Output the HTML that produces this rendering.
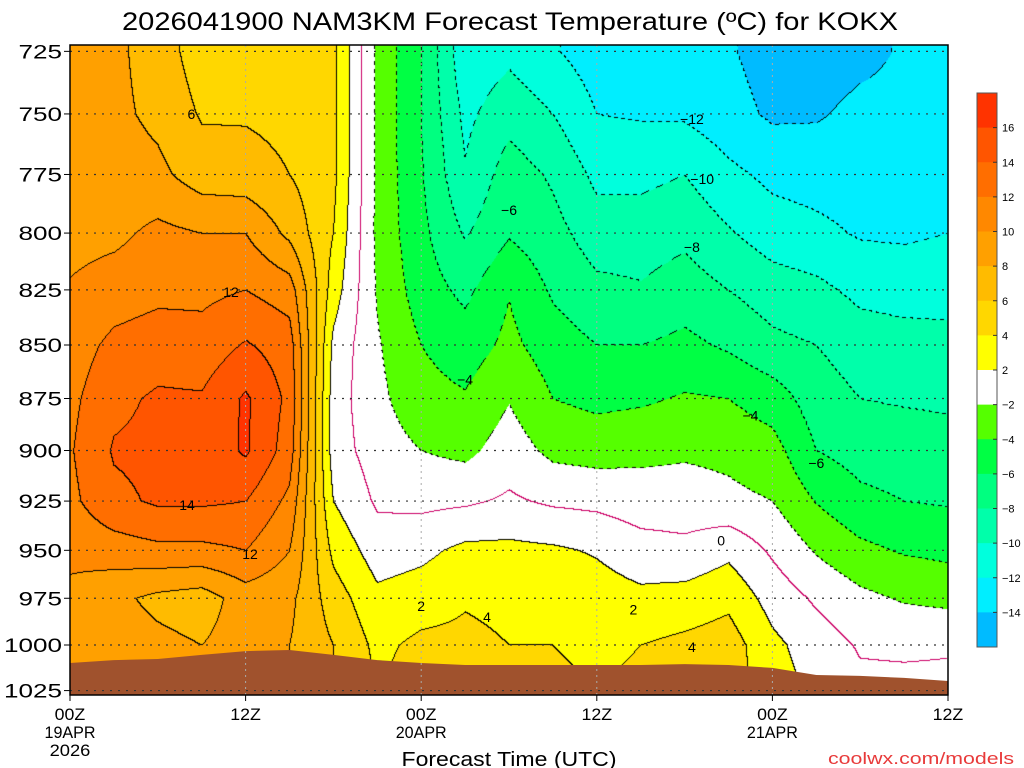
<!DOCTYPE html>
<html><head><meta charset="utf-8">
<style>
html,body{margin:0;padding:0;background:#fff;width:1024px;height:768px;overflow:hidden;}
#wrap{position:relative;width:1024px;height:768px;}
canvas{position:absolute;left:70px;top:45px;}
svg{position:absolute;left:0;top:0;}
text{font-family:"Liberation Sans",sans-serif;fill:#000;}
</style></head>
<body>
<div id="wrap">
<canvas id="cv" width="878" height="650"></canvas>
<svg id="ov" width="1024" height="768"></svg>
</div>
<script>
// ---- data ----
const times = [0,3,6,9,12,15,18,21,24,27,30,33,36,39,42,45,48,51,54,57,60];
const levels = [725,750,775,800,825,850,875,900,925,950,975,1000,1025];
const temps = [
 [9,9,9,9.3,10.2,11,11.5,11.8,11.5,10.5,9.5,8.5,8.5],
 [8.5,8.5,9,9.5,11,12.5,13.5,14.2,13.5,11,8.5,9,9],
 [7,7.5,8.5,10.5,11.5,13,14.3,14.5,14.3,11.5,7.5,8.5,8.5],
 [5,5.8,7,10,11.5,12.8,14.2,14.5,14.3,11.5,7,8,8],
 [5.5,5.8,6.8,10,12,14.2,16.3,16.3,14,12,9,9,9],
 [5,5.5,6,7.5,11,13,13.5,13,11.5,10,8.5,8,8],
 [4.5,4.5,4.5,4,3,1.5,1,1,2,3.5,5,6,6],
 [-2.5,-2.5,-2.5,-2.5,-2.2,-1.8,-1.5,-1,-0.3,1,2.5,3.5,4],
 [-6,-6,-5.8,-5.5,-5,-4,-3.3,-2,-0.5,1.5,3,4.5,5],
 [-11.5,-10.5,-9.8,-8.2,-6.5,-5,-3.8,-2.5,-0.3,2.5,3.8,4.5,5],
 [-10.5,-8.7,-7,-6.2,-4.1,-3.5,-2.1,-1,0.3,2.5,3.5,4,4.5],
 [-11.8,-10,-8.3,-7.3,-6.3,-5,-4,-2.5,-0.3,2.3,3.5,4,4.5],
 [-13,-12,-10.5,-9,-7.5,-6,-4.5,-2.8,-0.5,1.8,3,3.5,4],
 [-13.5,-12.2,-10.5,-9,-7.8,-6,-4.3,-2.5,-1,0.8,2.5,4,4.5],
 [-13.5,-12.3,-10,-8.5,-7,-5.5,-3.8,-2.3,-1,0.5,2.8,4.5,5],
 [-13.8,-13.3,-11.5,-9.8,-8,-6.3,-4,-2.5,-1.5,1.5,3.5,5,5],
 [-14.8,-14.3,-12.5,-11,-9,-7.5,-5,-3.2,-2,-0.3,1.2,2.5,3],
 [-15,-14.2,-12.8,-11.5,-9.5,-8,-7,-6,-4.1,-2.2,-0.3,1,1.5],
 [-14.5,-13.5,-13,-12.2,-10.5,-9,-8,-6.8,-5.5,-3.5,-1.5,-0.2,0.5],
 [-13.8,-13.5,-13,-12.3,-10.8,-9.2,-8.2,-7,-6,-4.2,-2.2,-0.3,0.5],
 [-13.5,-13,-12.5,-12,-10.6,-9.5,-8.3,-7.3,-6.2,-4.5,-2.5,-0.2,0.5]
];
const surfacePressure = [1009.8,1008.2,1007.6,1005.4,1003.3,1002.7,1005.4,1008.2,1009.8,1010.9,1010.9,1010.9,1010.9,1010.9,1010.4,1010.9,1012.5,1016.4,1016.9,1018,1019.7];
const bandBounds = [16,14,12,10,8,6,4,2,-2,-4,-6,-8,-10,-12,-14];
const bandColors = ['#ff3300','#ff5500','#ff6e00','#ff8800','#ffa000','#ffbb00','#ffd700','#ffff00','#ffffff','#55ff00','#00ff44','#00ff80','#00ffaa','#00ffdd','#00eeff','#00bbff'];
const colorbarLabels = ['16','14','12','10','8','6','4','2','\u22122','\u22124','\u22126','\u22128','\u221210','\u221212','\u221214'];
const pressureTicks = [725,750,775,800,825,850,875,900,925,950,975,1000,1025];
const timeTicks = [0,12,24,36,48,60];
const timeTickLabels = [['00Z','19APR','2026'],['12Z'],['00Z','20APR'],['12Z'],['00Z','21APR'],['12Z']];
const contourLabels = [['6',8.3,750],['12',11,826],['14',8,927],['12',12.3,952],['\u22126',30,790],['\u22124',27,866],['2',24,979],['4',28.5,985],['2',38.5,981],['4',42.5,1001],['0',44.5,945],['\u221212',42.5,752],['\u221210',43.2,777],['\u22128',42.5,806],['\u22124',46.5,883],['\u22126',51,906]];

// ---- axes ----
const X0=70, X1=948, Y0=45, Y1=695;
function xOf(t){return X0+(t/60)*(X1-X0);}
function yOf(p){return 645+1846*Math.log(p/1000);}
function pOf(y){return 1000*Math.exp((y-645)/1846);}
function bandOf(v){let i=0;while(i<bandBounds.length&&v<bandBounds[i])i++;return i;}
function sample(t,p){
  let ti=t/3, pi=(p-levels[0])/25;
  ti=Math.max(0,Math.min(times.length-1.0001,ti));
  pi=Math.max(0,Math.min(levels.length-1.0001,pi));
  const i=Math.floor(ti), j=Math.floor(pi), a=ti-i, b=pi-j;
  return temps[i][j]*(1-a)*(1-b)+temps[i+1][j]*a*(1-b)+temps[i][j+1]*(1-a)*b+temps[i+1][j+1]*a*b;
}
function hex(c){return [parseInt(c.substr(1,2),16),parseInt(c.substr(3,2),16),parseInt(c.substr(5,2),16)];}

// ---- field ----
const cv=document.getElementById('cv'), ctx=cv.getContext('2d');
const W=cv.width, H=cv.height;
const vals=new Float32Array(W*H), bands=new Uint8Array(W*H);
for(let py=0;py<H;py++){const p=pOf(Y0+py);for(let px=0;px<W;px++){const t=px/W*60;const v=sample(t,p);vals[py*W+px]=v;bands[py*W+px]=bandOf(v);}}
const img=ctx.createImageData(W,H);const rgb=bandColors.map(hex);
for(let k=0;k<W*H;k++){const c=rgb[bands[k]];img.data[k*4]=c[0];img.data[k*4+1]=c[1];img.data[k*4+2]=c[2];img.data[k*4+3]=255;}
for(let py=0;py<H-1;py++){for(let px=0;px<W-1;px++){
  const k=py*W+px;const b=bands[k];const br=bands[k+1],bd=bands[k+W];
  let col=null;
  const v=vals[k];
  if((v>=0)!==(vals[k+1]>=0)||(v>=0)!==(vals[k+W]>=0)){col=[204,0,102];}
  else if(b!==br||b!==bd){
    const o=(b!==br)?br:bd;const bv=bandBounds[Math.max(b,o)-1];
    if(bv<0){ if(((px+py)>>2)%2===0) col=[0,0,0]; } else col=[0,0,0];
  }
  if(col){img.data[k*4]=col[0];img.data[k*4+1]=col[1];img.data[k*4+2]=col[2];}
}}
ctx.putImageData(img,0,0);

// ---- overlay ----
const NS='http://www.w3.org/2000/svg', svg=document.getElementById('ov');
function mk(tag,attrs,parent){const e=document.createElementNS(NS,tag);for(const k in attrs)e.setAttribute(k,attrs[k]);(parent||svg).appendChild(e);return e;}

// ground
let gp='M'+X0+','+Y1;
for(let i=0;i<times.length;i++){gp+=' L'+xOf(times[i]).toFixed(1)+','+yOf(surfacePressure[i]).toFixed(1);}
gp+=' L'+X1+','+Y1+' Z';
const ground=mk('path',{d:gp,fill:'#a0522d'});



// grid
for(const p of pressureTicks){
  const y=yOf(p);
  const g=mk('line',{x1:X0,x2:X1,y1:y,y2:y,stroke:'#333','stroke-width':1.2,'stroke-dasharray':'2,6'});
  
  
  const tk=mk('line',{x1:X0-6,x2:X0,y1:y,y2:y,stroke:'#000','stroke-width':1});
  
  
  const s=String(p);
  const tx=mk('text',{x:62,y:y+7,'text-anchor':'end','font-size':19,textLength:s.length*14.5,lengthAdjust:'spacingAndGlyphs'});
  tx.textContent=s;
  
  
}
timeTicks.forEach((t,i)=>{
  const x=xOf(t);
  if(t>0&&t<60){const g=mk('line',{x1:x,x2:x,y1:Y0,y2:Y1,stroke:'#aaa','stroke-width':1,'stroke-dasharray':'2,4'});
    
    }
  const tk=mk('line',{x1:x,x2:x,y1:Y1,y2:Y1+6,stroke:'#000'});
  
  
  timeTickLabels[i].forEach((s,j)=>{
    const tx=mk('text',{x:x,y:720+j*18,'text-anchor':'middle','font-size':17,textLength:s.length*10.2,lengthAdjust:'spacingAndGlyphs'});
    tx.textContent=s;
    
    
  });
});
// contour labels
contourLabels.forEach(c=>{
  const tx=mk('text',{x:xOf(c[1]),y:yOf(c[2])+5,'text-anchor':'middle','font-size':14});
  tx.textContent=c[0];
  
  
});
// frame
const fr=mk('rect',{x:X0,y:Y0,width:X1-X0,height:Y1-Y0,fill:'none',stroke:'#000','stroke-width':1.5});



// colorbar
const cbTop=93, cbH=554, bh=cbH/bandColors.length;
bandColors.forEach((c,i)=>{
  const r=mk('rect',{x:977,y:cbTop+i*bh,width:20,height:bh+0.5,fill:c});
  
  
});
const cbf=mk('rect',{x:977,y:cbTop,width:20,height:cbH,fill:'none',stroke:'#555','stroke-width':1});


colorbarLabels.forEach((s,i)=>{
  const y=cbTop+(i+1)*bh;
  const tk=mk('line',{x1:993,x2:997,y1:y,y2:y,stroke:'#333'});
  
  
  const tx=mk('text',{x:1002,y:y+4,'font-size':11});
  tx.textContent=s;
  
  
});

// titles
const tt=mk('text',{x:510,y:30,'text-anchor':'middle','font-size':25,textLength:776,lengthAdjust:'spacingAndGlyphs'});
tt.textContent='2026041900 NAM3KM Forecast Temperature (\u00BAC) for KOKX';


const xt=mk('text',{x:509,y:766,'text-anchor':'middle','font-size':20,textLength:215,lengthAdjust:'spacingAndGlyphs'});
xt.textContent='Forecast Time (UTC)';


const cr=mk('text',{x:1014,y:764,'text-anchor':'end','font-size':17,textLength:186,lengthAdjust:'spacingAndGlyphs',style:'fill:#e83a3a'});
cr.textContent='coolwx.com/models';


</script>
</body></html>
